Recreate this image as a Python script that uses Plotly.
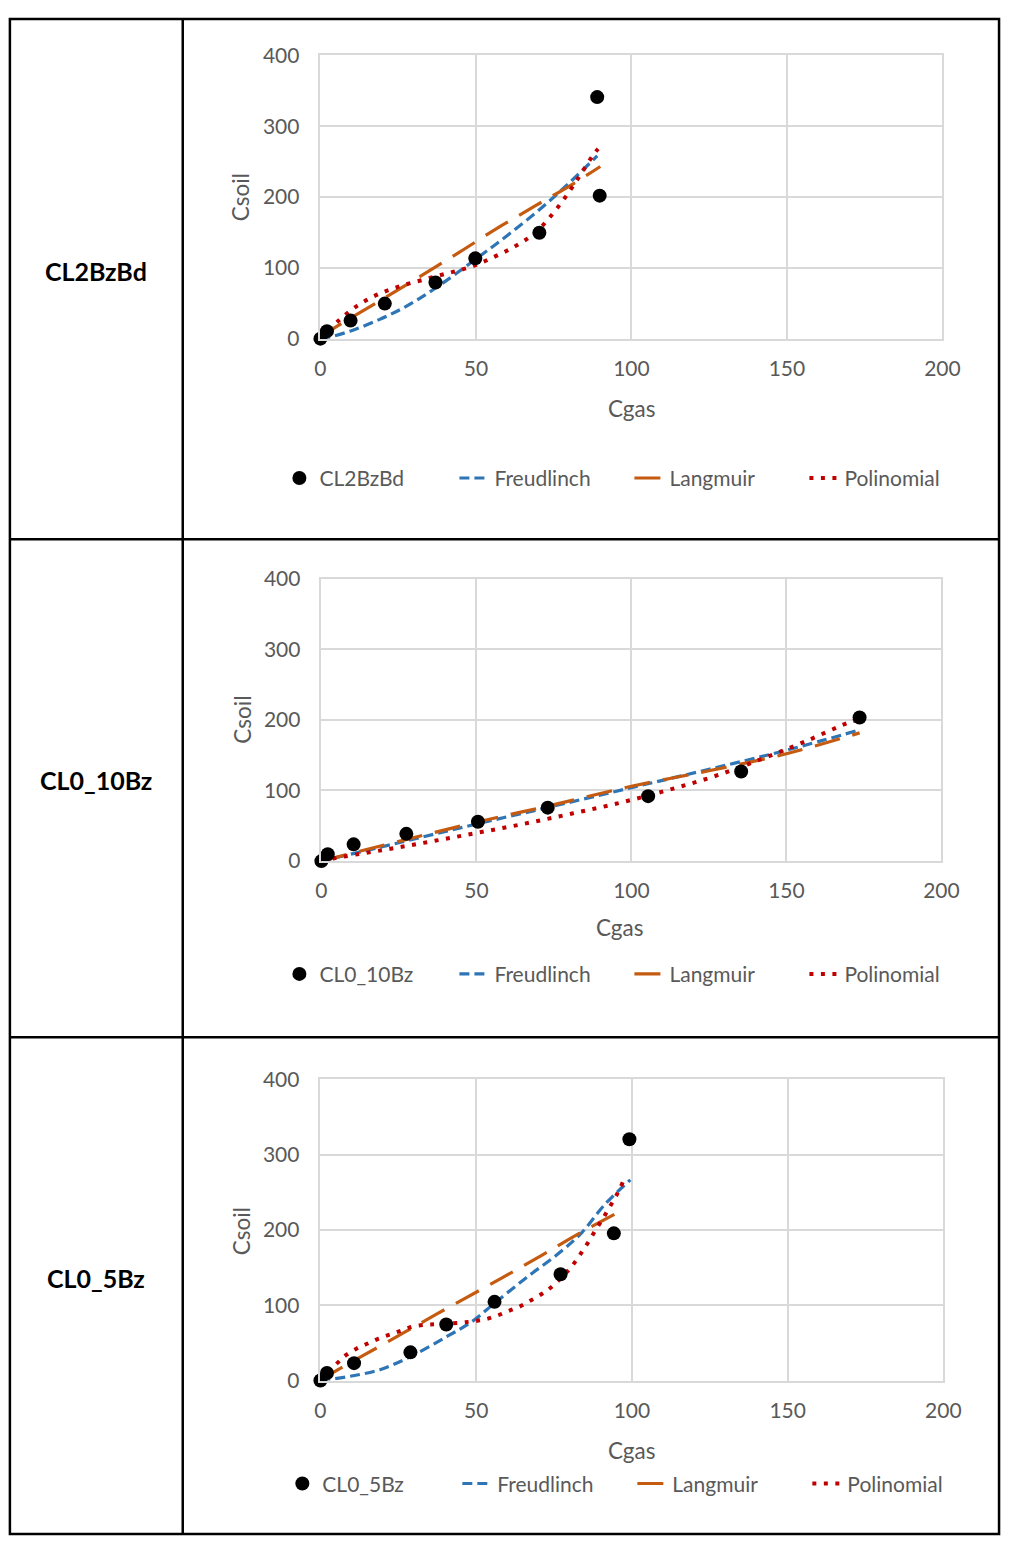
import plotly.graph_objects as go

W, H = 1019, 1547

# ---------------- DATA ----------------
# Chart 1: CL2BzBd
c1_name = "CL2BzBd"
c1_x = [0, 2.1, 9.7, 20.7, 37.0, 49.8, 70.4, 89.0, 89.8]
c1_y = [0, 10.6, 25.5, 49.5, 79.2, 113.4, 149.5, 341, 201.9]
c1_fr_x = [0, 2.1, 9.5, 18.9, 27.3, 36.8, 50, 59.9, 70.4, 79.8, 89.0]
c1_fr_y = [0, 1.4, 10.6, 26.9, 45, 70.8, 112.5, 145, 182, 219, 258]
c1_la_x = [0, 2.1, 20.5, 32.6, 44.6, 56.9, 69.3, 81.4, 90.0]
c1_la_y = [0, 8.3, 57, 89.4, 121.8, 156, 188, 219, 243]
c1_po_x = [0, 5.6, 11.8, 18.5, 25.9, 33.6, 41.1, 48.4, 55.8, 62.8, 69.1, 74.6, 79.3, 83.7, 87.9, 89.3]
c1_po_y = [0, 24.5, 46.3, 62.5, 74.5, 83.8, 92.6, 101.4, 115.3, 131, 149.5, 175.9, 203, 232, 260.6, 268]

# Chart 2: CL0_10Bz
c2_name = "CL0_10Bz"
c2_x = [0, 2.05, 10.4, 27.4, 50.5, 73.0, 105.4, 135.4, 173.6]
c2_y = [0, 9.8, 23.7, 38.6, 55.7, 75.7, 92, 126.8, 203.5]
c2_fr_x = [0, 25, 50, 75, 100, 125, 150, 173.6]
c2_fr_y = [0, 26, 52.5, 78, 104, 130, 157, 185.8]
c2_la_x = [0, 25, 50, 75, 100, 125, 150, 173.6]
c2_la_y = [0, 28, 55, 80, 106, 128, 152, 181.6]
c2_po_x = [0, 3.8, 19.4, 34.9, 50.2, 65.6, 80.9, 96.4, 111.6, 126.6, 141.4, 155.9, 170.2, 173.6]
c2_po_y = [0, 3.7, 15.3, 27.4, 40, 53, 67.4, 82.7, 100.3, 119.9, 143.6, 169.1, 196.5, 201]

# Chart 3: CL0_5Bz
c3_name = "CL0_5Bz"
c3_x = [0, 2.1, 10.8, 28.9, 40.4, 55.9, 77.1, 94.2, 99.2]
c3_y = [0, 10, 23.1, 37.5, 74.5, 104.6, 141.2, 195.6, 320.7]
c3_fr_x = [0, 2.1, 9.6, 19.1, 28.9, 40.4, 48.4, 55.9, 66.2, 77.1, 84.0, 91.3, 99.5]
c3_fr_y = [0, 1, 5.7, 14.4, 31.8, 58, 77.6, 102.8, 137, 171, 197, 234, 266.7]
c3_la_x = [0, 2.1, 20.6, 37.4, 58.3, 70.9, 82.4, 96.0]
c3_la_y = [0, 6, 49.2, 88.5, 136.4, 166, 194, 224.4]
c3_po_x = [0, 5.4, 8.3, 11.7, 15.2, 18.7, 22.5, 26.2, 29.8, 33.7, 37.4, 45.4, 49.4, 53.1,
           56.8, 60.4, 64.1, 67.5, 70.9, 74.0, 79.6, 82.1, 84.2, 86.4, 88.4, 90.5, 92.5,
           94.5, 96.3, 97.8]
c3_po_y = [0, 23.1, 34, 42.7, 49.2, 55.8, 61.4, 66.7, 71.9, 74.1, 74.9, 77.1, 78.9, 81.5,
           86.3, 92.4, 98.5, 106.3, 114.6, 123.7, 146.4, 159.5, 172.5, 186.5, 200.4, 214,
           227.9, 242.3, 256.2, 271.5]

x_ticks = [0, 50, 100, 150, 200]
y_ticks = [0, 100, 200, 300, 400]
fit_names = ["Freudlinch", "Langmuir", "Polinomial"]

# ---------------- STYLE ----------------
FONT = "Lato, 'Open Sans', sans-serif"
GREY = "#595959"
GRID = "#D9D9D9"
BLUE = "#2E75B6"
ORANGE = "#C55A11"
RED = "#C00000"


def px_x(p):
    return p / W


def px_y(p):
    return 1 - p / H


charts = [
    dict(name=c1_name, x=c1_x, y=c1_y, fr=(c1_fr_x, c1_fr_y), la=(c1_la_x, c1_la_y),
         po=(c1_po_x, c1_po_y), plot=(322, 959, 42, 330), cgas=(641, 401), csoil=(241, 186),
         leg=(280, 472), label_y=261),
    dict(name=c2_name, x=c2_x, y=c2_y, fr=(c2_fr_x, c2_fr_y), la=(c2_la_x, c2_la_y),
         po=(c2_po_x, c2_po_y), plot=(323, 958, 574, 861), cgas=(628, 929), csoil=(242, 717),
         leg=(280, 976), label_y=779),
    dict(name=c3_name, x=c3_x, y=c3_y, fr=(c3_fr_x, c3_fr_y), la=(c3_la_x, c3_la_y),
         po=(c3_po_x, c3_po_y), plot=(322, 960, 1083, 1389), cgas=(641, 1460), csoil=(241, 1237),
         leg=(283, 1494), label_y=1285),
]

fig = go.Figure()
annotations = []
layout_upd = {}

for i, c in enumerate(charts, start=1):
    sfx = "" if i == 1 else str(i)
    xa, ya = "x" + sfx, "y" + sfx
    leg = "legend" + sfx
    fx, fy = c["fr"]
    lx, ly = c["la"]
    qx, qy = c["po"]
    fig.add_trace(go.Scatter(x=fx, y=fy, mode="lines", name=fit_names[0], xaxis=xa, yaxis=ya,
                             legend=leg, legendrank=2, line_shape="spline",
                             line=dict(color=BLUE, width=3.2, dash="10px,5px")))
    fig.add_trace(go.Scatter(x=lx, y=ly, mode="lines", name=fit_names[1], xaxis=xa, yaxis=ya,
                             legend=leg, legendrank=3, line_shape="spline",
                             line=dict(color=ORANGE, width=3.2, dash="26px,13px")))
    fig.add_trace(go.Scatter(x=qx, y=qy, mode="lines", name=fit_names[2], xaxis=xa, yaxis=ya,
                             legend=leg, legendrank=4, line_shape="spline",
                             line=dict(color=RED, width=4, dash="4px,7.5px")))
    fig.add_trace(go.Scatter(x=c["x"], y=c["y"], mode="markers", name=c["name"], xaxis=xa,
                             yaxis=ya, legend=leg, legendrank=1, cliponaxis=False,
                             marker=dict(color="black", size=14, symbol="circle")))

    l, r, t, b = c["plot"]
    axis_common = dict(showgrid=True, gridcolor=GRID, gridwidth=1.5, zeroline=False,
                       showline=True, linecolor=GRID, linewidth=1.5, mirror=True,
                       ticks="", tickfont=dict(family=FONT, size=21, color=GREY))
    layout_upd["xaxis" + sfx] = dict(domain=[px_x(l), px_x(r)], range=[0, 200],
                                     tickvals=x_ticks, anchor=ya, ticklabelstandoff=10,
                                     **axis_common)
    layout_upd["yaxis" + sfx] = dict(domain=[px_y(b), px_y(t)], range=[0, 400],
                                     tickvals=y_ticks, anchor=xa, ticklabelstandoff=15,
                                     **axis_common)
    layout_upd[leg] = dict(orientation="h", x=px_x(c["leg"][0]), y=px_y(c["leg"][1]),
                           xanchor="left", yanchor="middle", bgcolor="rgba(0,0,0,0)",
                           font=dict(family=FONT, size=21, color=GREY),
                           traceorder="normal", itemwidth=30,
                           entrywidth=130, entrywidthmode="pixels")
    annotations.append(dict(text="Cgas", x=px_x(c["cgas"][0]), y=px_y(c["cgas"][1]),
                            xref="paper", yref="paper", showarrow=False,
                            xanchor="center", yanchor="middle",
                            font=dict(family=FONT, size=22.5, color=GREY)))
    annotations.append(dict(text="Csoil", x=px_x(c["csoil"][0]), y=px_y(c["csoil"][1]),
                            xref="paper", yref="paper", showarrow=False, textangle=-90,
                            xanchor="center", yanchor="middle",
                            font=dict(family=FONT, size=22.5, color=GREY)))
    annotations.append(dict(text="<b>" + c["name"] + "</b>", x=px_x(92), y=px_y(c["label_y"]),
                            xref="paper", yref="paper", showarrow=False,
                            xanchor="center", yanchor="middle",
                            font=dict(family=FONT, size=25, color="black")))

# table borders
shapes = []
line_style = dict(color="black", width=2.5)
shapes.append(dict(type="rect", xref="paper", yref="paper", x0=px_x(4), x1=px_x(1017),
                   y0=px_y(1545), y1=px_y(5), line=line_style))
shapes.append(dict(type="line", xref="paper", yref="paper", x0=px_x(181), x1=px_x(181),
                   y0=px_y(1545), y1=px_y(5), line=line_style))
for yy in (534, 1040):
    shapes.append(dict(type="line", xref="paper", yref="paper", x0=px_x(4), x1=px_x(1017),
                       y0=px_y(yy), y1=px_y(yy), line=line_style))

fig.update_layout(width=W, height=H, margin=dict(l=0, r=0, t=0, b=0),
                  paper_bgcolor="white", plot_bgcolor="white", showlegend=True,
                  annotations=annotations, shapes=shapes, **layout_upd)

fig.write_html("out.html")
